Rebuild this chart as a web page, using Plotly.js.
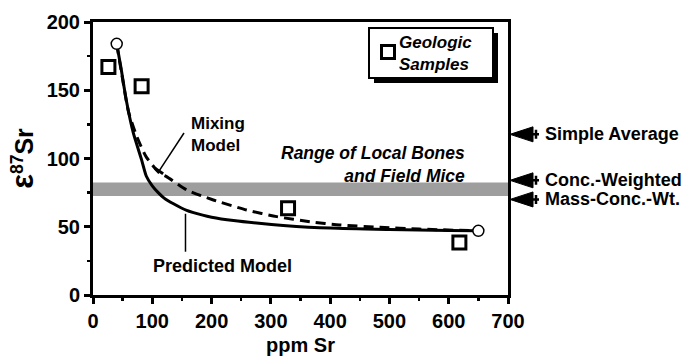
<!DOCTYPE html>
<html>
<head>
<meta charset="utf-8">
<script src="https://cdn.plot.ly/plotly-3.0.1.min.js"></script>
<style>
  html, body { margin: 0; padding: 0; background: #fff; }
  #chart { width: 685px; height: 356px; }
</style>
</head>
<body>
<div id="chart"></div>
<script>
// ---- data ----
const sampleX = [26, 82, 329, 618];          // Geologic samples, ppm Sr
const sampleY = [167, 153, 63.5, 38.5];       // ε87Sr

const endX = [40, 650];                       // model end-members
const endY = [184, 47];

const predictedX = [40, 47, 56, 68, 82, 90, 100, 110, 120, 135, 158, 185, 200, 237, 280, 321, 400, 500, 600, 650];
const predictedY = [184, 167, 143, 118.7, 99, 87, 80, 75, 71, 67, 62, 58.5, 57, 54.5, 52.5, 51, 49, 48, 47.3, 47];

const mixingX = [40, 50, 60, 74, 90, 113, 124, 158, 203, 259, 310, 366, 416, 484, 550, 650];
const mixingY = [184, 158, 134, 116, 101, 89, 86.7, 77, 69.6, 62.3, 57.4, 53.7, 51.3, 49.6, 48.3, 47];

const bandRange = [72.5, 82.5];               // Range of local bones and field mice

const averageLabels = ['Simple Average', 'Conc.-Weighted', 'Mass-Conc.-Wt.'];
const averageValues = [117.7, 84, 70];

const xTicks = [0, 100, 200, 300, 400, 500, 600, 700];
const yTicks = [0, 50, 100, 150, 200];

// ---- layout helpers (pixel -> paper) ----
const L = 93, R = 508, T = 22, B = 295;
const px = x => (x - L) / (R - L);
const py = y => (B - y) / (B - T);

const FONT = 'Liberation Sans, Arial, Helvetica, sans-serif';
const bold = (size, italic) => ({family: FONT, size: size, color: '#000', weight: 'bold', style: italic ? 'italic' : 'normal'});

const traces = [
  {x: predictedX, y: predictedY, type: 'scatter', mode: 'lines', name: 'Predicted Model',
   line: {color: '#000', width: 3, shape: 'spline', smoothing: 0.6}, showlegend: false, hoverinfo: 'skip'},
  {x: mixingX, y: mixingY, type: 'scatter', mode: 'lines', name: 'Mixing Model',
   line: {color: '#000', width: 3, dash: '10px,6px', shape: 'spline', smoothing: 0.6}, showlegend: false, hoverinfo: 'skip'},
  {x: endX, y: endY, type: 'scatter', mode: 'markers', name: 'End-members',
   marker: {symbol: 'circle', size: 11, color: '#fff', line: {color: '#000', width: 1.5}}, showlegend: false, cliponaxis: false},
  {x: sampleX, y: sampleY, type: 'scatter', mode: 'markers', name: 'Geologic Samples',
   marker: {symbol: 'square-open', size: 13, color: '#000', line: {color: '#000', width: 3}}, showlegend: false, cliponaxis: false}
];

const shapes = [
  // band
  {type: 'rect', xref: 'paper', yref: 'y', x0: 0, x1: 1, y0: bandRange[0], y1: bandRange[1],
   fillcolor: '#9e9e9e', line: {width: 0}, layer: 'below'},
  // legend shadow + box
  {type: 'rect', xref: 'paper', yref: 'paper', x0: px(374), x1: px(498), y0: py(83), y1: py(33),
   fillcolor: '#000', line: {width: 0}},
  {type: 'rect', xref: 'paper', yref: 'paper', x0: px(369), x1: px(493), y0: py(78), y1: py(28),
   fillcolor: '#fff', line: {color: '#000', width: 2}},
  // legend square symbol
  {type: 'rect', xref: 'paper', yref: 'paper', xsizemode: 'pixel', ysizemode: 'pixel',
   xanchor: px(388), yanchor: py(52), x0: -6.5, x1: 6.5, y0: -6.5, y1: 6.5,
   fillcolor: 'rgba(0,0,0,0)', line: {color: '#000', width: 3}},
  // Mixing model pointer
  {type: 'line', xref: 'x', yref: 'y', x0: 153.5, y0: 118.7, x1: 111.3, y1: 90.8, line: {color: '#000', width: 1.5}},
  {type: 'line', xref: 'x', yref: 'y', x0: 104.3, y0: 92.8, x1: 118.3, y1: 88.8, line: {color: '#000', width: 3}},
  // Predicted model pointer
  {type: 'line', xref: 'x', yref: 'y', x0: 156, y0: 59.5, x1: 156, y1: 31.7, line: {color: '#000', width: 1.5}}
];

const annotations = [
  {xref: 'paper', yref: 'paper', x: px(189), y: py(134.5), xanchor: 'left', yanchor: 'middle', align: 'left',
   text: 'Mixing<br>Model', showarrow: false, font: bold(17)},
  {xref: 'paper', yref: 'paper', x: px(222), y: py(266), xanchor: 'center', yanchor: 'middle', text: 'Predicted Model', showarrow: false, font: bold(18)},
  {xref: 'paper', yref: 'paper', x: px(467), y: py(164.5), xanchor: 'right', yanchor: 'middle', align: 'right',
   text: 'Range of Local Bones<br>and Field Mice', showarrow: false, font: bold(17.5, true)},
  {xref: 'paper', yref: 'paper', x: px(397), y: py(53), xanchor: 'left', yanchor: 'middle', align: 'left',
   text: 'Geologic<br>Samples', showarrow: false, font: bold(17, true)}
];

averageLabels.forEach((lab, i) => {
  const yp = averageValues[i] / 200;
  shapes.push({type: 'path', xref: 'paper', yref: 'paper', xsizemode: 'pixel', ysizemode: 'pixel',
    xanchor: 1, yanchor: yp, path: 'M2,0 L25,7.5 L25,-7.5 Z', fillcolor: '#000', line: {color: '#000', width: 1}});
  shapes.push({type: 'path', xref: 'paper', yref: 'paper', xsizemode: 'pixel', ysizemode: 'pixel',
    xanchor: 1, yanchor: yp, path: 'M24,0 L31,0 M28,-4.5 L28,4.5', line: {color: '#000', width: 2.5}});
  annotations.push({xref: 'paper', yref: 'paper', x: px(543), y: yp, xanchor: 'left', yanchor: 'middle',
    text: lab, showarrow: false, font: bold(18)});
});

const layout = {
  width: 685, height: 356,
  margin: {l: L, r: 685 - R, t: T, b: 356 - B, pad: 0},
  paper_bgcolor: '#fff', plot_bgcolor: '#fff',
  showlegend: false,
  xaxis: {
    range: [0, 700], tickvals: xTicks, ticktext: xTicks.map(String),
    showline: true, linewidth: 3, linecolor: '#000', mirror: true,
    ticks: 'outside', ticklen: 6, tickwidth: 3, tickcolor: '#000',
    minor: {dtick: 50, tick0: 0, ticks: 'outside', ticklen: 3, tickwidth: 2.5, tickcolor: '#000'},
    showgrid: false, zeroline: false,
    tickfont: bold(20),
    title: {text: 'ppm Sr', font: bold(20), standoff: 8}
  },
  yaxis: {
    range: [0, 200], tickvals: yTicks, ticktext: yTicks.map(String),
    showline: true, linewidth: 3, linecolor: '#000', mirror: true,
    ticks: 'outside', ticklen: 6, tickwidth: 3, tickcolor: '#000',
    minor: {dtick: 25, tick0: 0, ticks: 'outside', ticklen: 3, tickwidth: 2.5, tickcolor: '#000'},
    showgrid: false, zeroline: false,
    tickfont: bold(20),
    title: {text: '<span style="font-size:31px">ε</span><sup>87</sup>Sr', font: bold(25), standoff: 6}
  },
  shapes: shapes,
  annotations: annotations
};

Plotly.newPlot('chart', traces, layout, {displayModeBar: false, staticPlot: true});
</script>
</body>
</html>
